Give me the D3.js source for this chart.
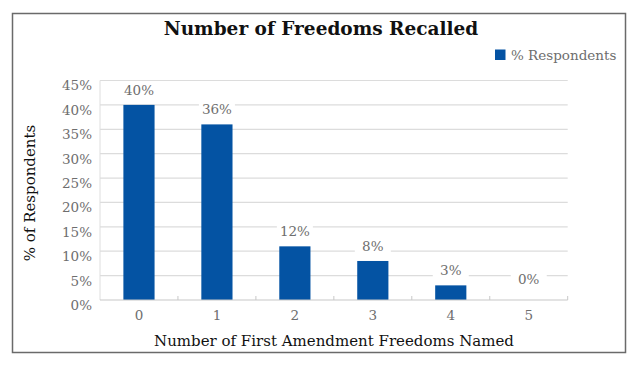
<!DOCTYPE html>
<html>
<head>
<meta charset="utf-8">
<script src="https://cdn.jsdelivr.net/npm/d3@7"></script>
<style>
  body { margin: 0; background: #fff; }
  svg text { font-family: "DejaVu Serif", serif; }
</style>
</head>
<body>
<div id="chart"></div>
<script>
// chart data
var categories = ["0", "1", "2", "3", "4", "5"];
var values = [40, 36, 11, 8, 3, 0];
var valueLabels = ["40%", "36%", "12%", "8%", "3%", "0%"];
var yTicks = [0, 5, 10, 15, 20, 25, 30, 35, 40, 45];

var svgWidth = 640;
var svgHeight = 365;

var margin = { top: 80.5, bottom: 65, right: 72.3, left: 100 };
var width = svgWidth - margin.left - margin.right;
var height = 300 - margin.top;

var blue = "#0453A3";
var grey = "#6e6e6e";

var svg = d3.select("#chart")
  .append("svg")
  .attr("width", svgWidth)
  .attr("height", svgHeight);

// outer frame
svg.append("rect")
  .attr("x", 12.5)
  .attr("y", 13.5)
  .attr("width", 613)
  .attr("height", 339)
  .attr("fill", "none")
  .attr("stroke", "#6a6a6a")
  .attr("stroke-width", 1.5);

// title
svg.append("text")
  .attr("x", 321)
  .attr("y", 35)
  .attr("text-anchor", "middle")
  .attr("font-size", "18.5px")
  .attr("font-weight", "bold")
  .attr("fill", "#111")
  .text("Number of Freedoms Recalled");

var chartGroup = svg.append("g")
  .attr("transform", `translate(${margin.left}, ${margin.top})`);

var xScale = d3.scaleBand()
  .domain(categories)
  .range([0, width])
  .paddingInner(0.6)
  .paddingOuter(0.3);

var yScale = d3.scaleLinear()
  .domain([0, 45])
  .range([height, 0]);

// gridlines
chartGroup.selectAll(".grid")
  .data(yTicks.slice(1))
  .enter()
  .append("line")
  .attr("x1", 0)
  .attr("x2", width)
  .attr("y1", d => yScale(d))
  .attr("y2", d => yScale(d))
  .attr("stroke", "#dcdcdc")
  .attr("stroke-width", 1.2);

// y axis line
chartGroup.append("line")
  .attr("x1", 0).attr("x2", 0)
  .attr("y1", 0).attr("y2", height)
  .attr("stroke", "#dedede");

// y axis labels
var yAxis = d3.axisLeft(yScale)
  .tickValues(yTicks)
  .tickSize(0)
  .tickPadding(8)
  .tickFormat(d => d + "%");

var yAxisG = chartGroup.append("g").call(yAxis);
yAxisG.select(".domain").remove();
yAxisG.selectAll("text")
  .attr("font-family", "DejaVu Serif")
  .attr("font-size", "13.5px")
  .attr("fill", grey)
  .attr("dy", "0.7em");

// bars
chartGroup.selectAll(".bar")
  .data(values)
  .enter()
  .append("rect")
  .attr("x", (d, i) => xScale(categories[i]))
  .attr("y", d => yScale(d))
  .attr("width", xScale.bandwidth())
  .attr("height", d => height - yScale(d))
  .attr("fill", blue);

// x axis line
chartGroup.append("line")
  .attr("x1", 0).attr("x2", width)
  .attr("y1", height).attr("y2", height)
  .attr("stroke", "#c8c8c8")
  .attr("stroke-width", 1.2);

// x tick marks at category boundaries
var boundaries = categories.map((c, i) => (i + 1) * xScale.step());
chartGroup.selectAll(".xtick")
  .data(boundaries)
  .enter()
  .append("line")
  .attr("x1", d => d).attr("x2", d => d)
  .attr("y1", height - 4).attr("y2", height)
  .attr("stroke", "#c8c8c8");

// x axis labels
chartGroup.selectAll(".xlabel")
  .data(categories)
  .enter()
  .append("text")
  .attr("x", d => xScale(d) + xScale.bandwidth() / 2)
  .attr("y", height + 20)
  .attr("text-anchor", "middle")
  .attr("font-size", "13.5px")
  .attr("fill", grey)
  .text(d => d);

// value labels with white boxes
var labelGroup = chartGroup.selectAll(".vlabel")
  .data(values)
  .enter()
  .append("g")
  .attr("transform", (d, i) =>
    `translate(${xScale(categories[i]) + xScale.bandwidth() / 2}, ${yScale(d) - (d === 0 ? 16 : 10)})`);

labelGroup.append("rect")
  .attr("x", -18)
  .attr("y", -13)
  .attr("width", 36)
  .attr("height", 17)
  .attr("fill", "#fff");

labelGroup.append("text")
  .attr("text-anchor", "middle")
  .attr("font-size", "13.5px")
  .attr("fill", grey)
  .text((d, i) => valueLabels[i]);

// axis titles
svg.append("text")
  .attr("transform", "rotate(-90)")
  .attr("x", -193)
  .attr("y", 35)
  .attr("text-anchor", "middle")
  .attr("font-size", "15px")
  .attr("fill", "#111")
  .text("% of Respondents");

svg.append("text")
  .attr("x", 334)
  .attr("y", 345.5)
  .attr("text-anchor", "middle")
  .attr("font-size", "15px")
  .attr("fill", "#111")
  .text("Number of First Amendment Freedoms Named");

// legend
svg.append("rect")
  .attr("x", 495)
  .attr("y", 49.5)
  .attr("width", 10.5)
  .attr("height", 10.5)
  .attr("fill", blue);

svg.append("text")
  .attr("x", 511)
  .attr("y", 60)
  .attr("font-size", "13.5px")
  .attr("fill", grey)
  .text("% Respondents");
</script>
</body>
</html>
